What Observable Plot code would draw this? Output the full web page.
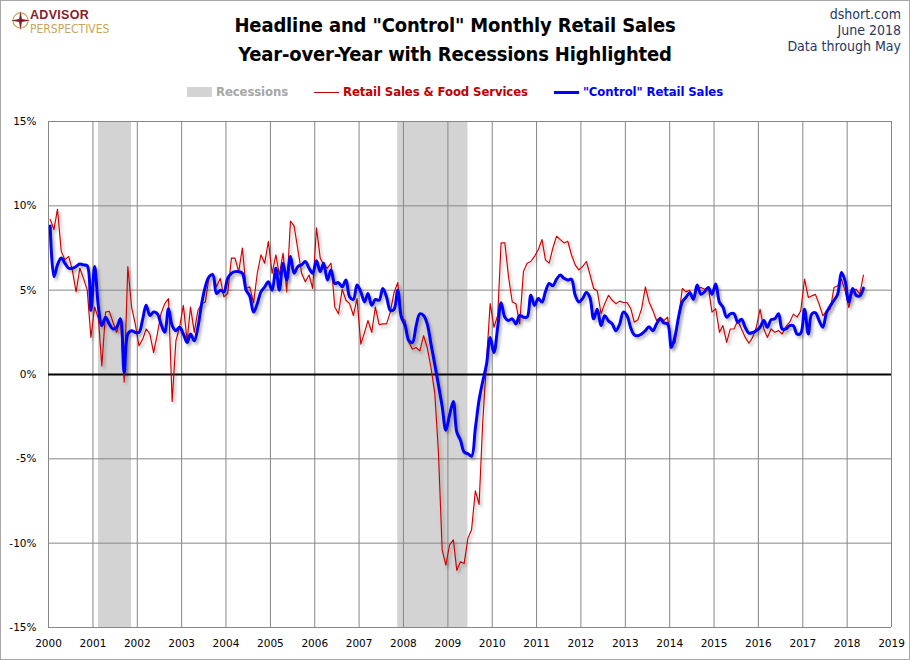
<!DOCTYPE html>
<html><head><meta charset="utf-8">
<script src="https://cdn.jsdelivr.net/npm/d3@7"></script>
<script src="https://cdn.jsdelivr.net/npm/@observablehq/plot@0.6"></script>
<style>
html,body{margin:0;padding:0;background:#fff;}
#wrap{position:relative;width:910px;height:660px;overflow:hidden;background:#fff;}
#border{position:absolute;left:0;top:0;width:910px;height:660px;box-sizing:border-box;border:1px solid #a6a6a6;pointer-events:none;}
.narrow{font-family:"Liberation Sans Narrow","Arial Narrow","DejaVu Sans Condensed",sans-serif;}
#title{position:absolute;left:0;top:11px;width:910px;text-align:center;font-weight:bold;font-size:20px;letter-spacing:-0.15px;line-height:28.5px;color:#000;}
#right{position:absolute;right:9px;top:6px;text-align:right;font-size:14px;line-height:16px;color:#1f3864;}
#legend{position:absolute;left:0;top:84px;width:910px;display:flex;justify-content:center;align-items:center;font-weight:bold;font-size:13px;letter-spacing:-0.1px;line-height:16px;}
#legend .item{display:flex;align-items:center;margin:0 13px;}
#legend .sw{display:inline-block;width:25px;margin-right:4px;}
#logo{position:absolute;left:11px;top:10px;}
#logo .t1{position:absolute;left:19px;top:-1px;font-family:"Liberation Sans",Arial,sans-serif;font-weight:bold;font-size:12.5px;line-height:12px;color:#8b1a2b;white-space:nowrap;letter-spacing:0.3px;}
#logo .t2{position:absolute;left:19px;top:13px;font-size:12px;line-height:12px;color:#c8a45a;white-space:nowrap;}
#chart{position:absolute;left:0;top:110px;}
</style></head>
<body><div id="wrap">
<div id="logo">
<svg width="19" height="19" viewBox="0 0 20 20" style="position:absolute;left:0;top:1px">
<circle cx="10" cy="10" r="8" fill="none" stroke="#c8a45a" stroke-width="1.3"/>
<polygon points="10,0 11.5,8.5 20,10 11.5,11.5 10,20 8.5,11.5 0,10 8.5,8.5" fill="#8b1a2b"/>
</svg>
<div class="t1">ADVISOR</div>
<div class="t2 narrow">PERSPECTIVES</div>
</div>
<div id="title" class="narrow">Headline and "Control" Monthly Retail Sales<br>Year-over-Year with Recessions Highlighted</div>
<div id="right" class="narrow">dshort.com<br>June 2018<br>Data through May</div>
<div id="legend" class="narrow">
<div class="item"><span class="sw" style="height:10px;background:#d3d3d3"></span><span style="color:#a6a6a6">Recessions</span></div>
<div class="item"><span class="sw" style="height:1px;background:#c00000"></span><span style="color:#c00000">Retail Sales &amp; Food Services</span></div>
<div class="item"><span class="sw" style="height:3px;background:#0000ff"></span><span style="color:#0000ff">"Control" Retail Sales</span></div>
</div>
<div id="chart"></div>
<div id="border"></div>
</div>
<script>
// Monthly YoY % change, Jan 2000 – May 2018
const startYear = 2000;
const headline = [
 9.2, 8.6, 9.8, 7.3, 6.8, 7.0, 6.2, 4.9, 6.3, 5.7, 5.0, 2.2,
 4.0, 3.3, 0.5, 3.7, 3.75, 3.1, 2.5, 3.3, -0.45, 6.4, 4.0, 3.0,
 1.7, 2.1, 2.7, 2.4, 1.3, 2.4, 3.6, 4.2, 4.5, -1.6, 2.0, 2.8,
 4.1, 2.0, 4.0, 2.5, 3.8, 4.2, 4.3, 5.8, 6.0, 5.2, 5.7, 4.6,
 4.8, 6.9, 6.9, 6.1, 7.5, 5.1, 5.2, 4.25, 6.0, 7.1, 6.6, 7.9,
 6.0, 7.1, 5.9, 7.2, 4.9, 9.1, 8.8, 7.4, 6.0, 5.5, 5.9, 5.1,
 8.7, 6.9, 6.5, 6.3, 6.6, 4.0, 3.6, 5.05, 4.4, 4.2, 3.5, 4.5,
 1.8, 2.5, 3.2, 2.5, 4.0, 2.95, 3.0, 3.0, 3.7, 4.85, 5.45, 3.4,
 3.2, 1.9, 1.5, 1.6, 1.4, 2.3, 1.6, 0.4, -1.1, -4.6, -10.4, -11.3,
 -10.1, -9.8, -11.6, -11.1, -11.2, -9.7, -9.2, -6.9, -7.7, -2.8, 0.8, 4.2,
 2.8, 3.5, 7.8, 7.8, 5.8, 4.3, 4.2, 3.0, 6.1, 6.6, 6.7, 7.0,
 7.4, 8.0, 6.8, 6.6, 7.5, 8.2, 8.0, 7.8, 7.9, 7.1, 6.5, 6.2,
 6.4, 6.7, 5.95, 5.1, 4.95, 3.6, 4.2, 4.7, 4.4, 4.2, 4.35, 4.27,
 4.27, 3.9, 3.1, 3.25, 3.9, 5.2, 4.3, 3.8, 3.2, 3.4, 3.2, 3.4,
 1.6, 1.9, 3.4, 5.1, 4.9, 5.0, 4.4, 5.06, 5.16, 5.06, 5.16, 3.7,
 3.9, 2.5, 2.9, 1.9, 2.7, 2.7, 3.2, 2.7, 2.2, 1.85, 2.2, 2.8,
 3.87, 2.7, 2.2, 2.7, 2.5, 2.6, 2.4, 2.85, 3.1, 3.58, 3.4, 3.77,
 5.65, 4.57, 4.66, 4.75, 4.17, 3.48, 3.77, 3.87, 5.16, 5.26, 5.65, 4.96,
 3.97, 4.96, 5.06, 4.76, 5.9
];
const control = [
 8.8, 5.8, 6.5, 6.9, 6.6, 6.3, 6.3, 6.4, 6.55, 6.5, 6.45, 3.8,
 6.4, 4.0, 2.9, 3.4, 3.0, 2.7, 2.8, 3.3, 0.1, 2.4, 2.6, 2.5,
 2.5, 3.3, 4.1, 3.5, 3.7, 3.6, 3.0, 2.5, 3.9, 2.9, 2.6, 2.8,
 2.4, 1.9, 2.4, 2.0, 2.8, 4.2, 5.2, 5.8, 5.9, 4.8, 5.0, 4.9,
 5.7, 6.0, 6.1, 6.1, 6.0, 5.0, 4.65, 3.7, 4.2, 4.9, 5.2, 5.5,
 5.0, 6.3, 5.0, 6.6, 5.6, 7.0, 6.0, 6.4, 6.5, 6.7, 6.3, 6.0,
 6.75, 6.1, 6.6, 5.6, 6.2, 5.4, 5.45, 5.2, 5.6, 4.6, 4.45, 5.3,
 4.9, 4.3, 4.8, 4.1, 4.45, 4.4, 5.1, 4.6, 3.8, 3.85, 5.0, 3.4,
 2.9, 2.0, 1.9, 2.9, 3.6, 3.5, 3.0, 1.8, 0.6, -0.6, -1.9, -3.3,
 -2.4, -1.6, -3.4, -3.9, -4.6, -4.7, -4.85, -3.2, -1.5, -0.4, 0.6, 2.2,
 1.3, 2.8, 4.26, 3.4, 3.2, 3.3, 3.0, 3.5, 3.4, 3.4, 4.7, 4.1,
 4.5, 4.3, 4.9, 5.4, 5.26, 5.65, 5.9, 5.7, 5.6, 5.65, 4.7, 4.3,
 4.5, 4.86, 4.57, 3.3, 3.87, 2.9, 3.48, 3.18, 3.0, 2.6, 2.98, 3.7,
 3.48, 2.75, 2.35, 2.3, 2.4, 2.6, 2.83, 2.6, 3.0, 3.3, 3.05, 3.0,
 1.6, 2.3, 3.4, 4.3, 4.57, 4.85, 4.47, 5.3, 4.76, 4.9, 5.16, 4.76,
 5.36, 4.27, 4.0, 3.4, 3.6, 3.6, 3.1, 3.28, 2.79, 2.45, 2.49, 2.6,
 2.8, 3.2, 2.8, 3.25, 3.3, 3.6, 2.7, 2.7, 2.9, 2.89, 2.39, 2.45,
 3.87, 2.4, 3.58, 3.66, 3.2, 2.8, 3.66, 4.07, 4.4, 4.76, 6.05, 5.55,
 4.3, 5.1, 4.7, 4.66, 5.12
];
// Recessions: [first month, last month] as [year, monthIndex]
const recessions = [
  {from: [2001, 2], to: [2001, 10]},
  {from: [2007, 11], to: [2009, 5]}
];
const yearTicks = d3.range(2000, 2020);
const pctTicks = [-15, -10, -5, 0, 5, 10, 15];

const monthDate = (y, m) => new Date(Date.UTC(y, m, 15));
const rows = headline.map((v, i) => ({date: monthDate(startYear, i), headline: v, control: control[i]}));
const recRows = recessions.map(r => ({x1: monthDate(r.from[0], r.from[1] - 1), x2: monthDate(r.to[0], r.to[1])}));
const yearDates = yearTicks.map(y => new Date(Date.UTC(y, 0, 1)));

const chart = Plot.plot({
  width: 910,
  height: 550,
  marginLeft: 48,
  marginRight: 19,
  marginTop: 11,
  marginBottom: 33,
  style: {fontFamily: "'DejaVu Sans', Verdana, sans-serif", fontSize: "10.5px", color: "#000", background: "transparent"},
  x: {type: "utc", domain: [yearDates[0], yearDates[yearDates.length - 1]], ticks: yearDates, tickFormat: d3.utcFormat("%Y"), tickSize: 0, tickPadding: 12, label: null},
  y: {domain: [-15, 15], ticks: pctTicks, tickFormat: d => d + "%", tickSize: 0, tickPadding: 12, label: null},
  marks: [
    Plot.rectX(recRows, {x1: "x1", x2: "x2", y1: -15, y2: 15, fill: "#d3d3d3"}),
    Plot.ruleX(yearDates, {stroke: "#878787", strokeWidth: 1}),
    Plot.ruleY(pctTicks.filter(d => d !== 0), {stroke: "#878787", strokeWidth: 1}),
    Plot.ruleY([0], {stroke: "#000", strokeWidth: 2}),
    Plot.line(rows, {x: "date", y: "headline", stroke: "#cc0000", strokeWidth: 1.15}),
    Plot.line(rows, {x: "date", y: "control", stroke: "#0000ff", strokeWidth: 3, curve: "catmull-rom"})
  ]
});
document.getElementById("chart").appendChild(chart);

// soft drop shadow on the two series, like the original
const svg = d3.select(chart);
const defs = svg.insert("defs", ":first-child");
const f = defs.append("filter").attr("id", "shadow").attr("x", "-5%").attr("y", "-5%").attr("width", "110%").attr("height", "110%");
f.append("feDropShadow").attr("dx", 2).attr("dy", 2.5).attr("stdDeviation", 1.5).attr("flood-color", "#000").attr("flood-opacity", 0.3);
svg.selectAll("g[aria-label='line']").attr("filter", "url(#shadow)");
</script>
</body></html>
